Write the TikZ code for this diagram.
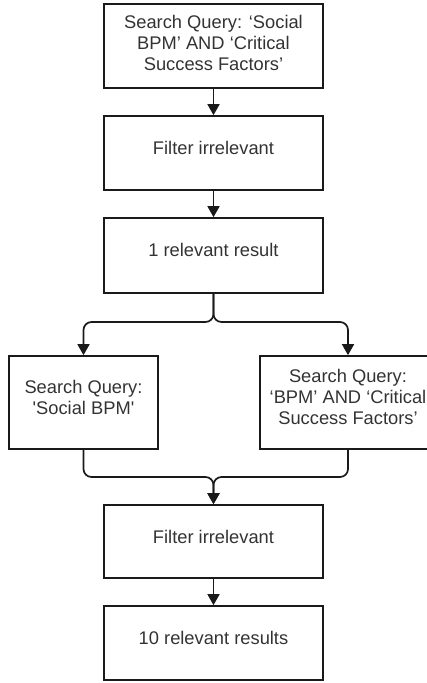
\documentclass[tikz,border=0pt]{standalone}
\usepackage{fontspec}
\setmainfont{Liberation Sans}
\usetikzlibrary{arrows.meta}
\definecolor{ln}{HTML}{1A1A1A}
\definecolor{tx}{HTML}{333333}
\begin{document}
\begin{tikzpicture}[x=1pt,y=1pt,
  box/.style={draw=ln,line width=1.7pt,rectangle,inner sep=0pt},
  txt/.style={text=tx,align=center,inner sep=0pt,font=\fontsize{18.3}{21}\selectfont},
  conn/.style={draw=ln,line width=1.7pt,rounded corners=8pt},
  arr/.style={conn,-{Triangle[width=12pt,length=11pt]}}]
\useasboundingbox (0,0) rectangle (427,-683);
\begin{scope}
\clip (0,0) rectangle (427,-683);
\node[box,minimum width=219pt,minimum height=84pt] (b1) at (213.5,-46) {};
\node[box,minimum width=219pt,minimum height=74pt] (b2) at (213.5,-153) {};
\node[box,minimum width=219pt,minimum height=75pt] (b3) at (213.5,-255.5) {};
\node[box,minimum width=149pt,minimum height=93pt] (b4) at (83.5,-402.5) {};
\node[box,minimum width=176pt,minimum height=93pt] (b5) at (348,-402.5) {};
\node[box,minimum width=219pt,minimum height=73pt] (b6) at (213.5,-541.5) {};
\node[box,minimum width=219pt,minimum height=74pt] (b7) at (213.5,-643) {};

\node[txt] (t1) at (213.5,-43) {Search Query: ‘Social\\BPM’ AND ‘Critical\\Success Factors’};
\node[txt] (t2) at (213.5,-148) {Filter irrelevant};
\node[txt] (t3) at (213.5,-249.5) {1 relevant result};
\node[txt] (t4) at (83.5,-397) {Search Query:\\\textquotesingle Social BPM\textquotesingle};
\node[txt] (t5) at (348,-397) {Search Query:\\‘BPM’ AND ‘Critical\\Success Factors’};
\node[txt] (t6) at (213.5,-537) {Filter irrelevant};
\node[txt] (t7) at (213.5,-637.5) {10 relevant results};

\coordinate (split) at (213.5,-322);
\coordinate (merge) at (213.5,-477);

\draw[arr] (b1.south) -- (b2.north);
\draw[arr] (b2.south) -- (b3.north);
\draw[arr] (b3.south) -- (split) -| (b4.north);
\draw[arr] (b3.south) -- (split) -| (b5.north);
\draw[arr] (b4.south) |- (merge) -- (b6.north);
\draw[arr] (b5.south) |- (merge) -- (b6.north);
\draw[arr] (b6.south) -- (b7.north);
\end{scope}
\end{tikzpicture}
\end{document}
